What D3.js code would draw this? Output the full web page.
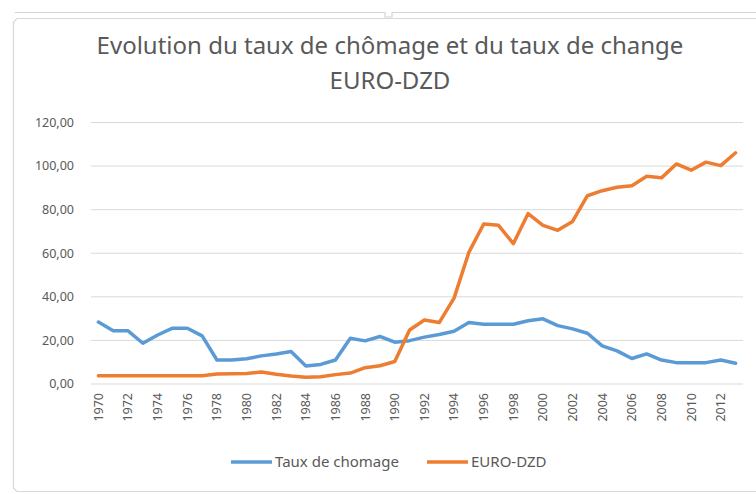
<!DOCTYPE html>
<html>
<head>
<meta charset="utf-8">
<script src="https://cdn.jsdelivr.net/npm/d3@7"></script>
<style>
  body { margin: 0; background: #fff; }
  text { font-family: "Noto Sans", "Open Sans", sans-serif; fill: #595959; }
</style>
</head>
<body>
<svg width="756" height="494"></svg>
<script>
// data
var years = d3.range(1970, 2014);
var chomage = [28.4, 24.4, 24.4, 18.7, 22.5, 25.6, 25.6, 22.1, 11.0, 11.0,
               11.6, 12.9, 13.8, 14.9, 8.3, 9.0, 11.0, 21.0, 19.8, 21.8,
               19.2, 19.9, 21.5, 22.7, 24.2, 28.2, 27.4, 27.4, 27.4, 29.0,
               29.9, 26.8, 25.3, 23.3, 17.5, 15.2, 11.7, 13.8, 11.0, 9.8,
               9.8, 9.8, 11.0, 9.5];
var euroDzd = [3.8, 3.8, 3.8, 3.8, 3.8, 3.8, 3.8, 3.8, 4.6, 4.7,
               4.8, 5.5, 4.5, 3.7, 3.1, 3.3, 4.3, 5.0, 7.5, 8.4,
               10.3, 24.8, 29.4, 28.2, 39.4, 60.4, 73.4, 72.8, 64.4, 78.2,
               72.8, 70.5, 74.6, 86.4, 88.7, 90.3, 91.0, 95.3, 94.6, 101.0,
               98.1, 101.8, 100.2, 106.1];
var yTicks = [0, 20, 40, 60, 80, 100, 120];
var seriesNames = ["Taux de chomage", "EURO-DZD"];
var seriesColors = ["#5B9BD5", "#ED7D31"];

var svg = d3.select("svg");

// frame of the chart object
svg.append("path")
  .attr("d", "M15,12.5 H385 V17 H392 V12.5 H756")
  .attr("fill", "none").attr("stroke", "#d4d4d4").attr("stroke-width", 1.2);
svg.append("path")
  .attr("d", "M756,18.5 H17 L13.5,22 V488 L17,491.5 H756")
  .attr("fill", "none").attr("stroke", "#d9d9d9").attr("stroke-width", 1.2);

var x = d3.scaleBand().domain(years).range([91, 743]);
var y = d3.scaleLinear().domain([0, 120]).range([384, 122.5]);

// gridlines
svg.append("g")
  .selectAll("line")
  .data(yTicks)
  .enter().append("line")
  .attr("x1", 91).attr("x2", 743)
  .attr("y1", function(d) { return y(d); })
  .attr("y2", function(d) { return y(d); })
  .attr("stroke", "#d9d9d9").attr("stroke-width", 1);

// y labels
svg.append("g")
  .selectAll("text")
  .data(yTicks)
  .enter().append("text")
  .attr("x", 74)
  .attr("y", function(d) { return y(d); })
  .attr("dy", "0.35em")
  .attr("text-anchor", "end")
  .style("font-size", "12.5px")
  .text(function(d) { return d3.format(".2f")(d).replace(".", ","); });

// x labels, every other year
svg.append("g")
  .selectAll("text")
  .data(years.filter(function(d) { return (d - 1970) % 2 == 0; }))
  .enter().append("text")
  .attr("transform", function(d) {
    return "translate(" + (x(d) + x.bandwidth() / 2) + ",393) rotate(-90)";
  })
  .attr("dy", "0.35em")
  .attr("text-anchor", "end")
  .style("font-size", "12.5px")
  .text(function(d) { return d; });

// lines
var line = d3.line()
  .x(function(d, i) { return x(years[i]) + x.bandwidth() / 2; })
  .y(function(d) { return y(d); });

[chomage, euroDzd].forEach(function(s, i) {
  svg.append("path")
    .datum(s)
    .attr("d", line)
    .attr("fill", "none")
    .attr("stroke", seriesColors[i])
    .attr("stroke-width", 3.5)
    .attr("stroke-linejoin", "round")
    .attr("stroke-linecap", "round");
});

// title
var title = svg.append("text")
  .attr("x", 390).attr("text-anchor", "middle")
  .style("font-size", "24px");
title.append("tspan").attr("x", 390).attr("y", 54)
  .text("Evolution du taux de chômage et du taux de change");
title.append("tspan").attr("x", 390).attr("y", 89)
  .text("EURO-DZD");

// legend
var legendX = [231, 427];
var legend = svg.append("g")
  .selectAll("g")
  .data(seriesNames)
  .enter().append("g")
  .attr("transform", function(d, i) { return "translate(" + legendX[i] + ",462)"; });
legend.append("line")
  .attr("x1", 0).attr("x2", 41)
  .attr("stroke", function(d, i) { return seriesColors[i]; })
  .attr("stroke-width", 3.5);
legend.append("text")
  .attr("x", 44).attr("dy", "0.35em")
  .style("font-size", "15px")
  .text(function(d) { return d; });
</script>
</body>
</html>
